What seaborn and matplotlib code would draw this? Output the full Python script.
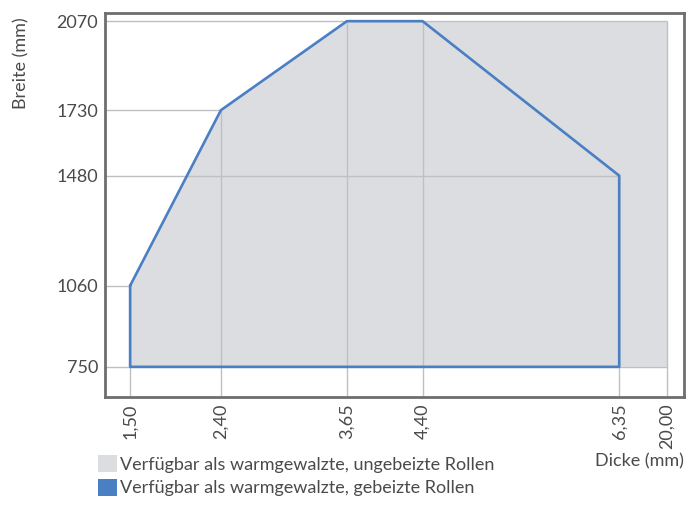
import matplotlib
matplotlib.use("Agg")
import matplotlib.pyplot as plt
import seaborn as sns
import pandas as pd
from matplotlib.patches import Patch

# Data
thickness_ticks = [1.50, 2.40, 3.65, 4.40, 6.35, 20.00]
thickness_labels = ["1,50", "2,40", "3,65", "4,40", "6,35", "20,00"]
width_ticks = [750, 1060, 1480, 1730, 2070]

# pickled coils (blue outline)
pickled_thickness = [1.50, 2.40, 3.65, 4.40, 6.35, 6.35, 1.50, 1.50]
pickled_width = [1060, 1730, 2070, 2070, 1480, 750, 750, 1060]

# unpickled coils (grey area)
unpickled_thickness = [1.50, 1.50, 2.40, 3.65, 20.00, 20.00]
unpickled_width = [750, 1060, 1730, 2070, 2070, 750]

# upper edge of the area at each thickness tick (where the grid stops)
grid_top = [1060, 1730, 2070, 2070, 1480, 2070]
# right edge of the area at each width tick
grid_right = [20.00, 1.50, 6.35, 2.40, 20.00]

GREY = "#dcdde0"
BLUE = "#4a7fc4"
GRID = "#bfc0c3"
TEXT = "#4a4a4a"


def xpos(t):
    # broken axis: 20,00 sits just right of 6,35
    return t if t <= 6.35 else 6.826


def main():
    sns.set_style("white")
    plt.rcParams['font.family'] = ['Lato', 'DejaVu Sans']

    fig = plt.figure(figsize=(6.87, 5.27), dpi=100)
    ax = fig.add_axes([0.153, 0.247, 0.843, 0.728])

    ax.fill([xpos(t) for t in unpickled_thickness], unpickled_width,
            color=GREY, lw=0, zorder=1)

    y0, y1 = 635.5, 2100.5
    x0 = 1.252
    ax.vlines([xpos(t) for t in thickness_ticks], y0, grid_top,
              color=GRID, lw=1, zorder=2)
    ax.hlines(width_ticks, x0, [xpos(t) for t in grid_right],
              color=GRID, lw=1, zorder=2)

    df = pd.DataFrame({"x": [xpos(t) for t in pickled_thickness],
                       "y": pickled_width})
    sns.lineplot(data=df, x="x", y="y", sort=False, estimator=None,
                 color=BLUE, lw=1.9, ax=ax, zorder=3)

    ax.set_xlim(x0, 6.995)
    ax.set_ylim(y0, y1)
    ax.set_xticks([xpos(t) for t in thickness_ticks])
    ax.set_xticklabels(thickness_labels, rotation=90)
    ax.set_yticks(width_ticks)
    ax.set_yticklabels([str(w) for w in width_ticks])
    ax.tick_params(length=0, labelsize=13, labelcolor=TEXT, pad=5)

    for s in ax.spines.values():
        s.set_color("#6e6e6e")
        s.set_linewidth(2)

    ax.set_xlabel("Dicke (mm)", loc="right", fontsize=13, color=TEXT)
    ax.xaxis.set_label_coords(1.0, -0.148)
    ax.set_ylabel("Breite (mm)", loc="top", fontsize=13, color=TEXT)
    ax.yaxis.set_label_coords(-0.13, 0.99)

    handles = [Patch(facecolor=GREY, edgecolor="none"),
               Patch(facecolor=BLUE, edgecolor="none")]
    labels = ["Verfügbar als warmgewalzte, ungebeizte Rollen",
              "Verfügbar als warmgewalzte, gebeizte Rollen"]
    fig.legend(handles, labels, loc="upper left",
               bbox_to_anchor=(98 / 687, 1 - 455 / 527),
               frameon=False, borderaxespad=0, borderpad=0,
               handlelength=1.05, handleheight=1.05, handletextpad=0.15,
               labelspacing=0.35, fontsize=13, labelcolor=TEXT)

    fig.savefig("out.png", dpi=100)


if __name__ == "__main__":
    main()
